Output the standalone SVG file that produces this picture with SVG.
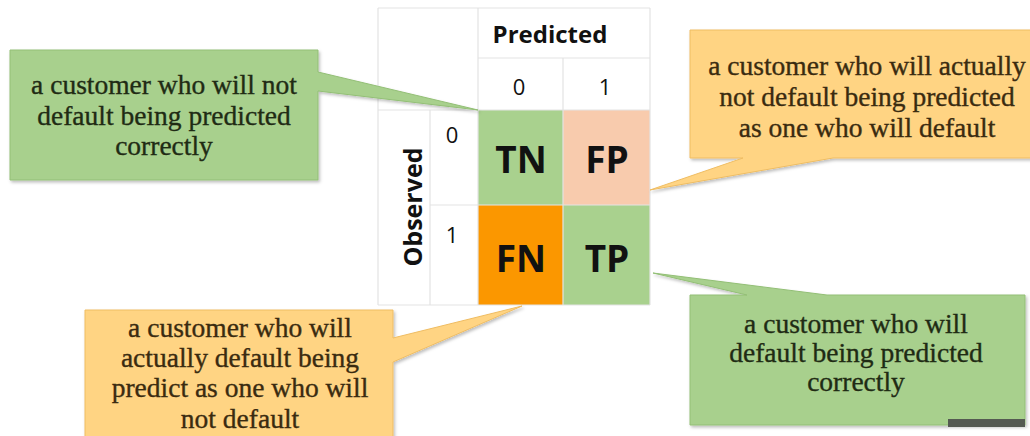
<svg xmlns="http://www.w3.org/2000/svg" width="1030" height="436" viewBox="0 0 1030 436">
  <defs>
    <filter id="shadow" x="-10%" y="-10%" width="125%" height="130%">
      <feDropShadow dx="1.5" dy="2" stdDeviation="1.8" flood-color="#000" flood-opacity="0.25"/>
    </filter>
    <style>
      .grid { stroke: #e3e3e3; stroke-width: 1.2; fill: none; }
      .hdr { font-family: "Open Sans", "Liberation Sans", sans-serif; fill: #111; text-anchor: middle; }
      .bold { font-weight: 700; }
      .cellTxt { font-family: "Open Sans", "Liberation Sans", sans-serif; font-weight: 700; font-size: 37px; fill: #111; text-anchor: middle; }
      .green { fill: #a8d08d; stroke: #93bf76; stroke-width: 1; }
      .amber { fill: #ffd483; stroke: #efbd63; stroke-width: 1; }
      .note { font-family: "Liberation Serif", "DejaVu Serif", serif; font-size: 27.5px; text-anchor: middle; stroke-width: 0.35; }
      .note-g { fill: #1f2b14; stroke: #1f2b14; }
      .note-a { fill: #3a2b10; stroke: #3a2b10; }
    </style>
  </defs>

  <rect width="1030" height="436" fill="#ffffff"/>

  <!-- confusion matrix -->
  <g id="matrix">
    <rect x="478" y="110" width="85" height="95" fill="#a9d18e"/>
    <rect x="563" y="110" width="87" height="95" fill="#f8cbad"/>
    <rect x="478" y="205" width="85" height="100" fill="#fb9700"/>
    <rect x="563" y="205" width="87" height="100" fill="#a9d18e"/>

    <path class="grid" d="M378,8 H650 M478,58 H650 M378,110 H650 M430,205 H650 M378,305 H650
                          M378,8 V305 M430,110 V305 M478,8 V305 M563,58 V305 M650,8 V305"/>

    <text class="hdr bold" x="550" y="43" font-size="24">Predicted</text>
    <text class="hdr" x="519" y="95" font-size="22">0</text>
    <text class="hdr" x="605" y="95" font-size="22">1</text>
    <text class="hdr" x="452" y="143" font-size="22">0</text>
    <text class="hdr" x="452" y="243" font-size="22">1</text>
    <text class="hdr bold" font-size="25" transform="translate(422,207) rotate(-90)">Observed</text>

    <text class="cellTxt" x="521" y="173">TN</text>
    <text class="cellTxt" x="607" y="173">FP</text>
    <text class="cellTxt" x="521" y="272">FN</text>
    <text class="cellTxt" x="607" y="272">TP</text>
  </g>

  <!-- callout bubbles with pointers into the matrix -->
  <g id="connectors">
    <g id="note-tn" filter="url(#shadow)">
      <path class="green" d="M10,50 H318 V72 L478,110 L318,91 V180 H10 Z"/>
    </g>
    <g id="note-fp" filter="url(#shadow)">
      <path class="amber" d="M690,30 H1034 V158 H833 L650,190 L743,158 H690 Z"/>
    </g>
    <g id="note-fn" filter="url(#shadow)">
      <path class="amber" d="M85,310 H393 V338 L522,306 L393,362 V440 H85 Z"/>
    </g>
    <g id="note-tp" filter="url(#shadow)">
      <path class="green" d="M690,295 H747 L653,273 L827,295 H1025 V425 H690 Z"/>
    </g>
  </g>

  <g id="label-tn">
    <text class="note note-g" x="164" y="94">a customer who will not</text>
    <text class="note note-g" x="164" y="125">default being predicted</text>
    <text class="note note-g" x="164" y="155">correctly</text>
  </g>

  <g id="label-fp">
    <text class="note note-a" x="867" y="75">a customer who will actually</text>
    <text class="note note-a" x="867" y="106">not default being predicted</text>
    <text class="note note-a" x="867" y="137">as one who will default</text>
  </g>

  <g id="label-fn">
    <text class="note note-a" x="240" y="337">a customer who will</text>
    <text class="note note-a" x="240" y="367">actually default being</text>
    <text class="note note-a" x="240" y="397">predict as one who will</text>
    <text class="note note-a" x="240" y="428">not default</text>
  </g>

  <g id="label-tp">
    <text class="note note-g" x="856" y="333">a customer who will</text>
    <text class="note note-g" x="856" y="362">default being predicted</text>
    <text class="note note-g" x="856" y="391">correctly</text>
  </g>

  <rect id="corner-bar" x="948" y="419" width="77" height="8" fill="#555a52"/>
</svg>
